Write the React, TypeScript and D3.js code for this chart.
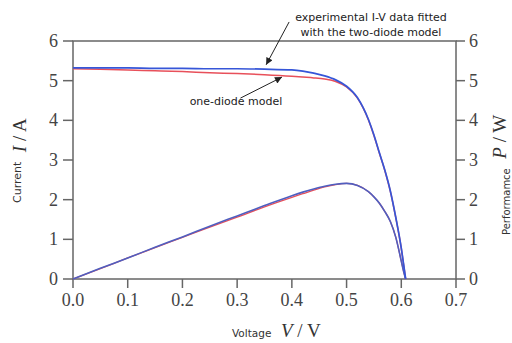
import { useEffect, useRef } from 'react'
import * as d3 from 'd3'

// I-V and P-V characteristics of a solar cell.
const voltage = [0, 0.05, 0.1, 0.15, 0.2, 0.25, 0.3, 0.35, 0.4, 0.42, 0.44, 0.46, 0.48, 0.5, 0.52, 0.54, 0.55, 0.56, 0.57, 0.58, 0.59, 0.6, 0.605, 0.608]
const currentTwoDiode = [5.32, 5.32, 5.32, 5.31, 5.31, 5.3, 5.3, 5.29, 5.27, 5.24, 5.19, 5.12, 5.02, 4.86, 4.57, 4.02, 3.63, 3.18, 2.74, 2.22, 1.55, 0.78, 0.3, 0]
const currentOneDiode = [5.3, 5.29, 5.27, 5.25, 5.23, 5.2, 5.18, 5.15, 5.11, 5.09, 5.07, 5.04, 4.98, 4.84, 4.56, 4.01, 3.62, 3.17, 2.73, 2.21, 1.54, 0.77, 0.29, 0]
const powerTwoDiode = [0, 0.27, 0.53, 0.8, 1.06, 1.33, 1.59, 1.85, 2.1, 2.19, 2.27, 2.34, 2.39, 2.41, 2.36, 2.2, 2.07, 1.91, 1.7, 1.45, 1.05, 0.45, 0.15, 0]
const powerOneDiode = [0, 0.26, 0.53, 0.79, 1.05, 1.31, 1.56, 1.82, 2.06, 2.15, 2.24, 2.32, 2.38, 2.41, 2.36, 2.2, 2.07, 1.91, 1.7, 1.45, 1.05, 0.45, 0.15, 0]

const xTicks = [0, 0.1, 0.2, 0.3, 0.4, 0.5, 0.6, 0.7]
const yTicks = [0, 1, 2, 3, 4, 5, 6]

// annotation arrows in data units: [tailV, tailI, tipV, tipI]
const arrowTwoDiode = [0.395, 6.48, 0.353, 5.4]
const arrowOneDiode = [0.306, 4.56, 0.382, 5.09]

const W = 512
const H = 343
const SERIF = '"Liberation Serif", "Times New Roman", serif'
const SANS = '"DejaVu Sans", Verdana, sans-serif'

const App = () => {
  const ref = useRef<HTMLDivElement>(null)

  useEffect(() => {
    if (!ref.current) return
    ref.current.innerHTML = ''

    const margin = { top: 41, right: 56, bottom: 64, left: 73 }
    const x = d3.scaleLinear().domain([0, 0.7]).range([margin.left, W - margin.right])
    const y = d3.scaleLinear().domain([0, 6]).range([H - margin.bottom, margin.top])

    const svg = d3
      .select(ref.current)
      .append('svg')
      .attr('width', W)
      .attr('height', H)
      .style('position', 'absolute')
      .style('left', '0px')
      .style('top', '0px')
      .style('background', '#fff')

    const defs = svg.append('defs')
    defs
      .append('marker')
      .attr('id', 'arrow')
      .attr('viewBox', '0 0 10 10')
      .attr('refX', 10)
      .attr('refY', 5)
      .attr('markerWidth', 9)
      .attr('markerHeight', 7)
      .attr('markerUnits', 'userSpaceOnUse')
      .attr('orient', 'auto')
      .append('path')
      .attr('d', 'M0,0 L10,5 L0,10 z')
      .attr('fill', '#222')

    const axisColor = '#666'
    const x0 = x(0)
    const x1 = x(0.7)
    const y0 = y(0)
    const y1 = y(6)

    // Frame
    svg
      .append('rect')
      .attr('x', x0)
      .attr('y', y1)
      .attr('width', x1 - x0)
      .attr('height', y0 - y1)
      .attr('fill', 'none')
      .attr('stroke', axisColor)
      .attr('stroke-width', 1.5)

    // Bottom ticks + labels
    xTicks.forEach((t) => {
      svg
        .append('line')
        .attr('x1', x(t))
        .attr('x2', x(t))
        .attr('y1', y0)
        .attr('y2', y0 + 9)
        .attr('stroke', axisColor)
        .attr('stroke-width', 1.5)
      svg
        .append('text')
        .attr('x', x(t))
        .attr('y', y0 + 27)
        .attr('text-anchor', 'middle')
        .style('font-family', SERIF)
        .style('font-size', '18px')
        .style('fill', '#444')
        .text(t.toFixed(1))
    })

    // Left and right ticks + labels
    yTicks.forEach((t) => {
      svg
        .append('line')
        .attr('x1', x0 - 10)
        .attr('x2', x0)
        .attr('y1', y(t))
        .attr('y2', y(t))
        .attr('stroke', axisColor)
        .attr('stroke-width', 1.5)
      svg
        .append('line')
        .attr('x1', x1)
        .attr('x2', x1 + 9)
        .attr('y1', y(t))
        .attr('y2', y(t))
        .attr('stroke', axisColor)
        .attr('stroke-width', 1.5)
      svg
        .append('text')
        .attr('x', x0 - 15)
        .attr('y', y(t) + 6)
        .attr('text-anchor', 'end')
        .style('font-family', SERIF)
        .style('font-size', '18px')
        .style('fill', '#444')
        .text(String(t))
      svg
        .append('text')
        .attr('x', x1 + 13)
        .attr('y', y(t) + 6)
        .attr('text-anchor', 'start')
        .style('font-family', SERIF)
        .style('font-size', '18px')
        .style('fill', '#444')
        .text(String(t))
    })

    // Axis titles
    const xTitle = svg
      .append('text')
      .attr('x', 232)
      .attr('y', 337)
      .style('fill', '#333')
    xTitle.append('tspan').style('font-family', SANS).style('font-size', '10.5px').text('Voltage')
    xTitle.append('tspan').style('font-family', SERIF).style('font-size', '19px').style('font-style', 'italic').text('\u2002V')
    xTitle.append('tspan').style('font-family', SERIF).style('font-size', '19px').text(' / V')

    const yTitle = svg
      .append('text')
      .attr('transform', 'translate(21,203) rotate(-90)')
      .style('fill', '#333')
    yTitle.append('tspan').style('font-family', SANS).style('font-size', '11px').text('Current')
    yTitle.append('tspan').style('font-family', SERIF).style('font-size', '19px').style('font-style', 'italic').attr('dy', 5).text('\u2002I')
    yTitle.append('tspan').style('font-family', SERIF).style('font-size', '19px').text(' / A')

    const y2Title = svg
      .append('text')
      .attr('transform', 'translate(510,235) rotate(-90)')
      .style('fill', '#333')
    y2Title.append('tspan').style('font-family', SANS).style('font-size', '10px').text('Performamce')
    y2Title.append('tspan').style('font-family', SERIF).style('font-size', '19px').style('font-style', 'italic').attr('dy', -4).text('\u2002P')
    y2Title.append('tspan').style('font-family', SERIF).style('font-size', '19px').text(' / W')

    // Curves
    const line = (vals: number[]) =>
      d3
        .line<number>()
        .x((_, i) => x(voltage[i]))
        .y((d) => y(d))
        .curve(d3.curveMonotoneX)(vals)

    const series = [
      { vals: powerOneDiode, color: '#e8505a', width: 1.3 },
      { vals: currentOneDiode, color: '#e8505a', width: 1.5 },
      { vals: powerTwoDiode, color: '#4f5fc0', width: 1.6 },
      { vals: currentTwoDiode, color: '#3656d8', width: 1.7 },
    ]
    series.forEach((s) => {
      svg
        .append('path')
        .attr('d', line(s.vals))
        .attr('fill', 'none')
        .attr('stroke', s.color)
        .attr('stroke-width', s.width)
    })

    // Annotations
    ;[arrowTwoDiode, arrowOneDiode].forEach((a) => {
      svg
        .append('line')
        .attr('x1', x(a[0]))
        .attr('y1', y(a[1]))
        .attr('x2', x(a[2]))
        .attr('y2', y(a[3]))
        .attr('stroke', '#222')
        .attr('stroke-width', 1)
        .attr('marker-end', 'url(#arrow)')
    })

    const note = svg
      .append('text')
      .attr('text-anchor', 'middle')
      .style('font-family', SANS)
      .style('font-size', '11px')
      .style('fill', '#222')
    note.append('tspan').attr('x', 371).attr('y', 21).text('experimental I-V data fitted')
    note.append('tspan').attr('x', 371).attr('y', 36).text('with the two-diode model')

    svg
      .append('text')
      .attr('x', 236)
      .attr('y', 105)
      .attr('text-anchor', 'middle')
      .style('font-family', SANS)
      .style('font-size', '11px')
      .style('fill', '#222')
      .text('one-diode model')
  }, [])

  return <div ref={ref} style={{ width: W, height: H }} />
}

export default App
